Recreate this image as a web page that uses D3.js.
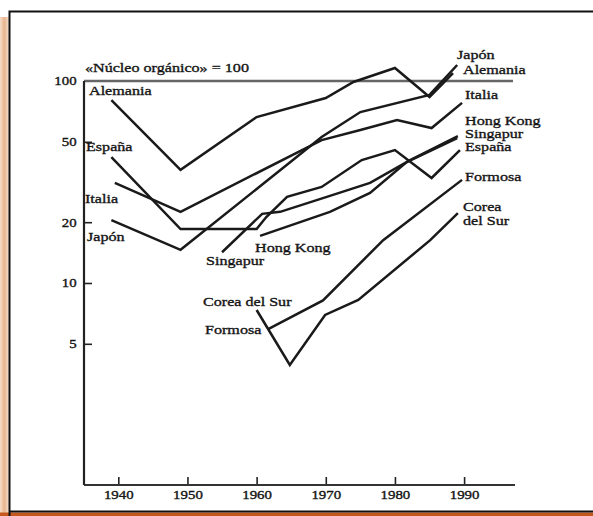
<!DOCTYPE html>
<html>
<head>
<meta charset="utf-8">
<script src="https://cdn.jsdelivr.net/npm/d3@7"></script>
<style>
	html, body { margin: 0; padding: 0; background: #fff; }
	svg text { font-family: "Liberation Serif", "DejaVu Serif", serif; fill: #151515; stroke: #151515; stroke-width: 0.35px; }
</style>
</head>
<body>
<div id="chart"></div>
<script>
// Series: [year, index] with «núcleo orgánico» = 100
const alemania = [[1939, 80.5], [1949, 36.3], [1960, 66.3], [1970, 82.4], [1974, 98.9], [1980, 116], [1985, 83.3], [1988.4, 109.5]];
const japon = [[1939, 20.5], [1949, 14.6], [1969.4, 52.8], [1975, 70.2], [1985, 85.3], [1989, 120]];
const italia = [[1939.5, 31.3], [1949, 22.5], [1969.4, 51], [1975, 57.2], [1980.3, 64.1], [1985.3, 58.5], [1989.7, 77.9]];
const espana = [[1939, 42], [1949, 18.5], [1960, 18.5], [1961.4, 21.2], [1964.4, 26.7], [1969.4, 29.9], [1975.2, 40.6], [1980, 45.5], [1985.3, 33.1], [1989.4, 45.5]];
const singapur = [[1955, 14.2], [1960.8, 22], [1963.4, 22.5], [1970.6, 27], [1976.4, 31.3], [1982.2, 40.6], [1989.1, 53.4]];
const hongKong = [[1960.5, 17.1], [1970.6, 22.5], [1976.4, 27.9], [1981.7, 39.7], [1989, 52.2]];
const formosa = [[1961.6, 5.9], [1969.6, 8.2], [1978.3, 16.3], [1989.7, 32.4]];
const coreaDelSur = [[1960, 7.35], [1964.8, 3.93], [1969.9, 6.95], [1974.7, 8.24], [1985.1, 16.3], [1989.1, 22.2]];

const series = [alemania, japon, italia, espana, singapur, hongKong, formosa, coreaDelSur];

// Tick labels
const yearTicks = [1940, 1950, 1960, 1970, 1980, 1990];
const indexTicks = [5, 10, 20, 50, 100];
const title = "«Núcleo orgánico» = 100";

// Series names written on the chart (pixel positions of the text)
const labels = [
	{ text: "Alemania", x: 89, y: 95 },
	{ text: "España", x: 86, y: 151 },
	{ text: "Italia", x: 85, y: 203 },
	{ text: "Japón", x: 87, y: 241 },
	{ text: "Hong Kong", x: 255, y: 252 },
	{ text: "Singapur", x: 206, y: 265 },
	{ text: "Corea del Sur", x: 203, y: 306 },
	{ text: "Formosa", x: 205, y: 334 },
	{ text: "Japón", x: 457, y: 59 },
	{ text: "Alemania", x: 463, y: 74 },
	{ text: "Italia", x: 465, y: 99 },
	{ text: "Hong Kong", x: 465, y: 125 },
	{ text: "Singapur", x: 465, y: 138 },
	{ text: "España", x: 465, y: 151 },
	{ text: "Formosa", x: 465, y: 181 },
	{ text: "Corea", x: 463, y: 211 },
	{ text: "del Sur", x: 463, y: 225 },
];

const width = 593;
const height = 516;
const stretch = 1.24; // the scan is wider than it is tall

const axisLeftX = 84;
const axisRightX = 515;
const topLineRight = 513;

const x = d3.scaleLinear().domain([1940, 1990]).range([118.3, 464.1]);
const y = d3.scaleLog().domain([1, 100]).range([485, 81]);

const svg = d3
	.select("#chart")
	.append("svg")
	.attr("width", width)
	.attr("height", height);

// Page frame: peach shadow on the left, orange band at the bottom
const defs = svg.append("defs");
const grad = defs.append("linearGradient").attr("id", "shade").attr("x1", 0).attr("x2", 1);
grad.append("stop").attr("offset", 0).attr("stop-color", "#f6dcc8");
grad.append("stop").attr("offset", 0.5).attr("stop-color", "#e8b48e");
grad.append("stop").attr("offset", 1).attr("stop-color", "#f7e3d4");

svg.append("rect").attr("x", 0).attr("y", 17).attr("width", 9).attr("height", 496).attr("fill", "url(#shade)");
svg.append("rect").attr("x", 0).attr("y", 512.5).attr("width", width).attr("height", 4).attr("fill", "#c4581c");
svg.append("path")
	.attr("d", `M9.5,${height}V11.5H${width}M9.5,511.5H${width}`)
	.attr("fill", "none")
	.attr("stroke", "#111")
	.attr("stroke-width", 2);

// Top reference line at 100
svg.append("line")
	.attr("x1", axisLeftX)
	.attr("x2", topLineRight)
	.attr("y1", y(100))
	.attr("y2", y(100))
	.attr("stroke", "#666")
	.attr("stroke-width", 2.5);

// Axes, ticks pointing inward
const yAxis = svg
	.append("g")
	.attr("transform", `translate(${axisLeftX},0)`)
	.call(d3.axisLeft(y).tickValues(indexTicks).tickSize(-8).tickPadding(6).tickFormat(d3.format("d")));

const xAxis = svg
	.append("g")
	.attr("transform", `translate(0,${y(1)})`)
	.call(d3.axisBottom(x).tickValues(yearTicks).tickSize(-8).tickPadding(5).tickFormat(d3.format("d")));

[yAxis, xAxis].forEach((g) => {
	g.select(".domain").remove();
	g.selectAll("line").attr("stroke", "#222").attr("stroke-width", 1.6);
	g.selectAll("text")
		.attr("font-size", 12)
		.attr("fill", "#151515")
		.style("font-family", '"Liberation Serif", serif')
		.attr("transform", `scale(${stretch},1)`);
});
yAxis.selectAll(".tick").filter((d) => d === 100).select("line").remove();

svg.append("line")
	.attr("x1", axisLeftX)
	.attr("x2", axisLeftX)
	.attr("y1", y(100))
	.attr("y2", y(1))
	.attr("stroke", "#222")
	.attr("stroke-width", 2.2);

svg.append("line")
	.attr("x1", axisLeftX)
	.attr("x2", axisRightX)
	.attr("y1", y(1))
	.attr("y2", y(1))
	.attr("stroke", "#333")
	.attr("stroke-width", 2.2);

// Lines
const line = d3
	.line()
	.x((d) => x(d[0]))
	.y((d) => y(d[1]));

svg.append("g")
	.selectAll("path")
	.data(series)
	.enter()
	.append("path")
	.attr("d", line)
	.attr("fill", "none")
	.attr("stroke", "#1a1a1a")
	.attr("stroke-width", 2.5)
	.attr("stroke-linejoin", "miter");

// Title and series names
svg.append("text")
	.attr("transform", `translate(85,71.5) scale(${stretch},1)`)
	.attr("font-size", 13)
	.text(title);

svg.append("g")
	.selectAll("text")
	.data(labels)
	.enter()
	.append("text")
	.attr("transform", (d) => `translate(${d.x},${d.y}) scale(${stretch},1)`)
	.attr("font-size", 13)
	.text((d) => d.text);
</script>
</body>
</html>
